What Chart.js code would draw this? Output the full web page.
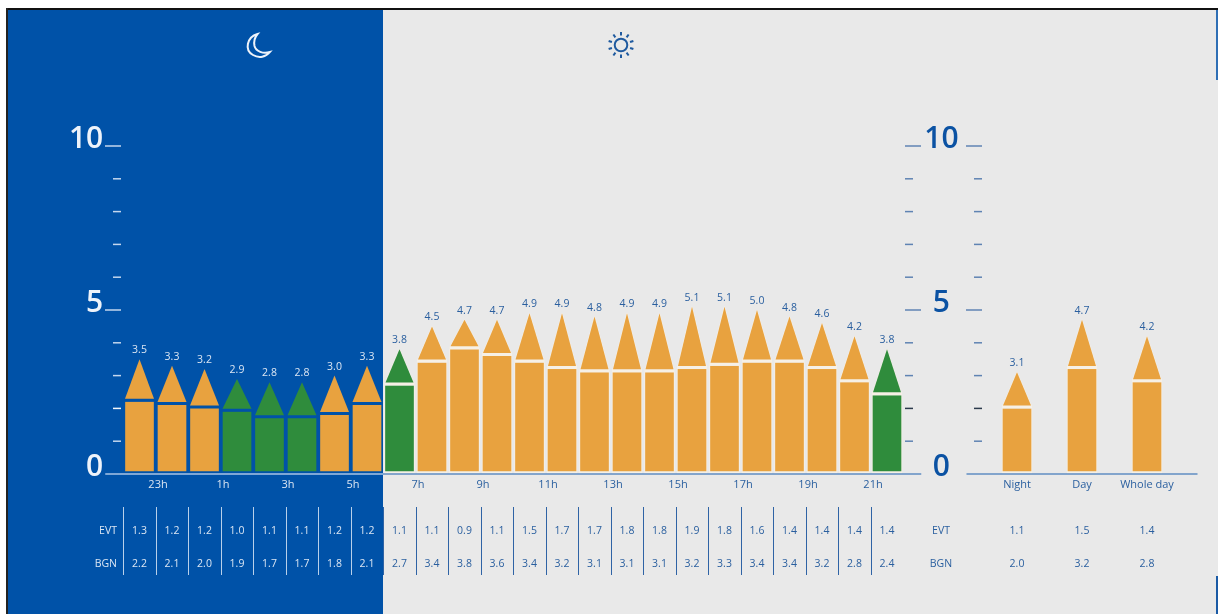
<!DOCTYPE html>
<html>
<head>
<meta charset="utf-8">
<title>EVT and BGN by hour</title>
<script src="https://cdn.jsdelivr.net/npm/chart.js@4"></script>
<style>
html,body{margin:0;padding:0;background:#fff;width:1218px;height:614px;overflow:hidden}
.frame{position:absolute;left:7px;top:8px;width:1211px;height:2px;background:#111}
.frameL{position:absolute;left:6px;top:8px;width:2px;height:606px;background:#222}
.night{position:absolute;left:8px;top:10px;width:375px;height:604px;background:#0052a8}
.day{position:absolute;left:383px;top:10px;width:835px;height:604px;background:#e9e9e9}
.edgeA{position:absolute;left:1216px;top:10px;width:2px;height:70px;background:#2f6fb5}
.edgeB{position:absolute;left:1216px;top:576px;width:2px;height:38px;background:#1a5aa5}
canvas{position:absolute;top:0}
#hourly{left:0}
#summary{left:960px}
</style>
</head>
<body>
<div class="night"></div><div class="day"></div>
<div class="frame"></div><div class="frameL"></div>
<div class="edgeA"></div><div class="edgeB"></div>
<canvas id="hourly" width="960" height="614"></canvas>
<canvas id="summary" width="258" height="614"></canvas>
<script>
const hourLabels = ['22h','23h','0h','1h','2h','3h','4h','5h','6h','7h','8h','9h','10h','11h','12h','13h','14h','15h','16h','17h','18h','19h','20h','21h'];
const bgnHourly = [2.2,2.1,2.0,1.9,1.7,1.7,1.8,2.1,2.7,3.4,3.8,3.6,3.4,3.2,3.1,3.1,3.1,3.2,3.3,3.4,3.4,3.2,2.8,2.4];
const evtHourly = [1.3,1.2,1.2,1.0,1.1,1.1,1.2,1.2,1.1,1.1,0.9,1.1,1.5,1.7,1.7,1.8,1.8,1.9,1.8,1.6,1.4,1.4,1.4,1.4];
const totalHourly = [3.5,3.3,3.2,2.9,2.8,2.8,3.0,3.3,3.8,4.5,4.7,4.7,4.9,4.9,4.8,4.9,4.9,5.1,5.1,5.0,4.8,4.6,4.2,3.8];
const greenHours = ['1h','2h','3h','6h','21h'];
const nightHours = ['22h','23h','0h','1h','2h','3h','4h','5h'];
const summaryLabels = ['Night','Day','Whole day'];
const bgnSummary = [2.0,3.2,2.8];
const evtSummary = [1.1,1.5,1.4];
const totalSummary = [3.1,4.7,4.2];

const FONT = '"Open Sans", "Noto Sans", sans-serif';
const NIGHT_EDGE = 383;
const ORANGE = '#e8a23f', GREEN = '#2f8c3c';
const LIGHT = '#dbe6f3', STEEL = '#2a5f9f', DARK = '#0b52a3', HALO = '#f6f0e6';
Chart.defaults.font.family = FONT;

function isNight(label){ return nightHours.includes(label); }
function fillFor(label){ return greenHours.includes(label) ? GREEN : ORANGE; }

const pencilPlugin = {
  id: 'pencil',
  afterDatasetsDraw(chart, args, opts){
    const {ctx} = chart;
    const meta = chart.getDatasetMeta(1);
    const labels = chart.data.labels;
    ctx.save();
    meta.data.forEach((el, i) => {
      const night = isNight(labels[i]);
      const half = el.width / 2 - (night ? 0.5 : 1);
      const baseY = el.base - 3;
      if (!night) {
        ctx.fillStyle = HALO;
        ctx.fillRect(el.x - half - 1, el.base - 3, (half + 1) * 2, 3);
      }
      ctx.beginPath();
      ctx.moveTo(el.x - half, baseY);
      ctx.lineTo(el.x + half, baseY);
      ctx.lineTo(el.x, el.y);
      ctx.closePath();
      if (!night) { ctx.lineWidth = 1; ctx.strokeStyle = HALO; ctx.stroke(); }
      ctx.fillStyle = fillFor(labels[i]);
      ctx.fill();
      ctx.fillStyle = night ? LIGHT : STEEL;
      ctx.font = '500 10.5px ' + FONT;
      ctx.textAlign = 'center';
      ctx.textBaseline = 'middle';
      ctx.fillText(opts.totals[i].toFixed(1), el.x, el.y - 9);
    });
    ctx.restore();
  }
};

const axisPlugin = {
  id: 'axisMarks',
  afterDraw(chart, args, opts){
    const {ctx, chartArea: ca, scales:{y}} = chart;
    const y0 = y.getPixelForValue(0);
    const edge = NIGHT_EDGE - opts.canvasLeft;
    const from = ca.left - 18, to = ca.right + 18;
    ctx.save();
    ctx.lineWidth = 1.6;
    if (from < edge) {
      ctx.strokeStyle = '#a9c5e6';
      ctx.beginPath(); ctx.moveTo(from, y0); ctx.lineTo(edge, y0); ctx.stroke();
    }
    ctx.strokeStyle = '#5f8cc2';
    ctx.beginPath(); ctx.moveTo(Math.max(edge, from), y0); ctx.lineTo(to, y0); ctx.stroke();
    y.ticks.forEach(t => {
      if (t.value === 0) return;
      const py = y.getPixelForValue(t.value);
      const major = t.value % 5 === 0;
      opts.marks.forEach(m => {
        const len = major ? 16 : 8;
        ctx.strokeStyle = t.value === 2 ? m.accent : m.color;
        ctx.lineWidth = 1.5;
        ctx.beginPath();
        if (m.side === 'l') { ctx.moveTo(ca.left + m.at, py); ctx.lineTo(ca.left + m.at - len, py); }
        else { ctx.moveTo(ca.right + m.at, py); ctx.lineTo(ca.right + m.at + len, py); }
        ctx.stroke();
      });
    });
    ctx.restore();
  }
};

const tablePlugin = {
  id: 'table',
  afterDraw(chart, args, opts){
    const {ctx, scales:{x}} = chart;
    const labels = chart.data.labels;
    const rowA = 531, rowB = 564;
    ctx.save();
    ctx.font = '500 10.5px ' + FONT;
    ctx.textBaseline = 'middle';
    ctx.textAlign = 'center';
    labels.forEach((l, i) => {
      const cx = x.getPixelForValue(i);
      const night = isNight(l);
      ctx.fillStyle = night ? LIGHT : STEEL;
      ctx.fillText(opts.evt[i].toFixed(1), cx, rowA);
      ctx.fillText(opts.bgn[i].toFixed(1), cx, rowB);
      if (opts.rules) {
        const lx = Math.round(cx - 16.25) + 0.5;
        ctx.strokeStyle = night ? '#b9d0ea' : '#2f63a5';
        ctx.lineWidth = 1;
        ctx.beginPath(); ctx.moveTo(lx, 507); ctx.lineTo(lx, 575); ctx.stroke();
      }
    });
    opts.heads.forEach(h => {
      ctx.fillStyle = h.color;
      ctx.textAlign = h.align;
      ctx.fillText('EVT', h.x, rowA);
      ctx.fillText('BGN', h.x, rowB);
    });
    ctx.restore();
  }
};

const iconPlugin = {
  id: 'icons',
  afterDraw(chart){
    const {ctx} = chart;
    ctx.save();
    ctx.strokeStyle = '#eef3fa';
    ctx.lineWidth = 2;
    ctx.beginPath();
    ctx.moveTo(257.5, 34);
    ctx.bezierCurveTo(247, 37, 244, 50, 253, 55);
    ctx.bezierCurveTo(259, 58.5, 266, 57, 270, 52);
    ctx.bezierCurveTo(263, 54, 256, 51.5, 254.5, 46);
    ctx.bezierCurveTo(253.5, 41, 255, 37, 257.5, 34);
    ctx.closePath();
    ctx.stroke();
    const sx = 621, sy = 45;
    ctx.strokeStyle = '#1f5a9f';
    ctx.lineWidth = 2;
    ctx.beginPath(); ctx.arc(sx, sy, 6.3, 0, Math.PI * 2); ctx.stroke();
    for (let k = 0; k < 10; k++) {
      const a = k * Math.PI / 5 + Math.PI / 2;
      ctx.beginPath();
      ctx.moveTo(sx + Math.cos(a) * 9.5, sy + Math.sin(a) * 9.5);
      ctx.lineTo(sx + Math.cos(a) * 13, sy + Math.sin(a) * 13);
      ctx.stroke();
    }
    ctx.restore();
  }
};

function barDatasets(labels, bgn, evt){
  return [
    {
      label: 'BGN', data: bgn, stack: 's',
      backgroundColor: c => fillFor(labels[c.dataIndex]),
      borderColor: c => isNight(labels[c.dataIndex]) ? 'rgba(0,0,0,0)' : HALO,
      borderWidth: {left: 1, right: 1, top: 0, bottom: 3},
      borderSkipped: false,
      barThickness: 30
    },
    {
      label: 'EVT', data: evt, stack: 's',
      backgroundColor: 'rgba(0,0,0,0)',
      borderWidth: 0,
      barThickness: 30
    }
  ];
}

function yTick(v){ return v % 5 === 0 ? String(v) : ''; }
const noGrid = {display: false, drawTicks: false};

new Chart(document.getElementById('hourly'), {
  type: 'bar',
  data: {labels: hourLabels, datasets: barDatasets(hourLabels, bgnHourly, evtHourly)},
  plugins: [pencilPlugin, axisPlugin, tablePlugin, iconPlugin],
  options: {
    responsive: false, animation: false,
    layout: {padding: {top: 146, left: 0, right: 0, bottom: 0}},
    plugins: {
      legend: {display: false}, tooltip: {enabled: false},
      pencil: {totals: totalHourly},
      axisMarks: {canvasLeft: 0, marks: [
        {side: 'l', at: -2.25, color: '#c4d7ee', accent: '#f4f8fc'},
        {side: 'r', at: 1.75, color: '#5f83b3', accent: '#2b3a4c'}
      ]},
      table: {evt: evtHourly, bgn: bgnHourly, rules: true, heads: [
        {x: 117, align: 'right', color: LIGHT},
        {x: 941, align: 'center', color: STEEL}
      ]}
    },
    scales: {
      x: {
        stacked: true,
        grid: noGrid, border: {display: false},
        afterFit(s){ s.height = 140; },
        ticks: {
          autoSkip: false, maxRotation: 0, minRotation: 0,
          labelOffset: -14, padding: 4,
          font: {size: 11, weight: '500'},
          color: c => c.index < 8 ? LIGHT : STEEL,
          callback(v, i){ return i % 2 === 1 ? this.getLabelForValue(v) : ''; }
        }
      },
      y: {
        stacked: true, min: 0, max: 10, position: 'left',
        grid: noGrid, border: {display: false},
        afterFit(s){ s.width = 123.25; },
        ticks: {stepSize: 1, autoSkip: false, padding: 20, labelOffset: -7,
          font: {size: 30, weight: '600'}, color: '#eef3fa', callback: yTick}
      },
      y2: {
        type: 'linear', min: 0, max: 10, position: 'right',
        grid: noGrid, border: {display: false},
        afterFit(s){ s.width = 56.75; },
        ticks: {stepSize: 1, autoSkip: false, padding: 21, labelOffset: -7, crossAlign: 'center',
          font: {size: 30, weight: '600'}, color: DARK, callback: yTick}
      }
    }
  }
});

new Chart(document.getElementById('summary'), {
  type: 'bar',
  data: {labels: summaryLabels, datasets: barDatasets(summaryLabels, bgnSummary, evtSummary)},
  plugins: [pencilPlugin, axisPlugin, tablePlugin],
  options: {
    responsive: false, animation: false,
    layout: {padding: {top: 146, left: 0, right: 0, bottom: 0}},
    plugins: {
      legend: {display: false}, tooltip: {enabled: false},
      pencil: {totals: totalSummary},
      axisMarks: {canvasLeft: 960, marks: [{side: 'l', at: -2.5, color: '#5f83b3', accent: '#2b3a4c'}]},
      table: {evt: evtSummary, bgn: bgnSummary, rules: false, heads: []}
    },
    scales: {
      x: {
        stacked: true,
        grid: noGrid, border: {display: false},
        afterFit(s){ s.height = 140; },
        ticks: {autoSkip: false, maxRotation: 0, minRotation: 0, padding: 4,
          font: {size: 11, weight: '500'}, color: STEEL}
      },
      y: {
        stacked: true, min: 0, max: 10, position: 'left',
        grid: noGrid, border: {display: false},
        afterFit(s){ s.width = 24.5; },
        ticks: {display: false, stepSize: 1, autoSkip: false}
      },
      y2: {
        type: 'linear', min: 0, max: 10, position: 'right', display: true,
        grid: noGrid, border: {display: false},
        afterFit(s){ s.width = 38.5; },
        ticks: {display: false}
      }
    }
  }
});
</script>
</body>
</html>
